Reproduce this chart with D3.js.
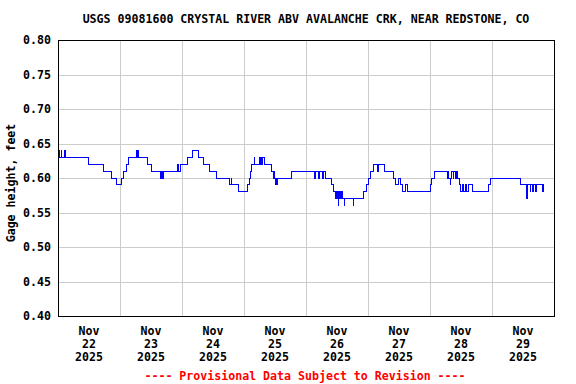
<!DOCTYPE html>
<html>
<head>
<meta charset="utf-8">
<script src="https://cdn.jsdelivr.net/npm/d3@7"></script>
<style>
  body { margin: 0; background: #fff; }
  svg { display: block; }
  text { font-family: "DejaVu Sans Mono", monospace; font-weight: bold; font-size: 11.6px; fill: #000; }
</style>
</head>
<body>
<svg id="chart" width="576" height="384"></svg>
<script>
const title = "USGS 09081600 CRYSTAL RIVER ABV AVALANCHE CRK, NEAR REDSTONE, CO";
const yLabel = "Gage height, feet";
const footer = "---- Provisional Data Subject to Revision ----";

// hours after Nov 22 2025 00:00 where the reading changed, and the new value
const hours = [0, 0.5, 0.75, 1.25, 1.5, 2.5, 2.75, 11.75, 17.5, 20.75, 22.75, 24.5, 25.25, 26.5, 27.25,
  30.25, 30.5, 30.75, 31, 34.5, 36.25, 39.75, 40, 40.5, 40.75, 46.25, 46.5, 47.25, 50.25, 52.25,
  54.25, 56.5, 58.5, 61.5, 66.5, 67, 67.25, 69.75, 73.25, 74, 74.5, 75, 76, 76.25, 78, 78.25,
  78.75, 79, 79.25, 79.75, 82.5, 83.25, 83.5, 83.75, 84, 84.25, 84.5, 85, 90.5, 99.25, 99.5,
  100.75, 101.25, 102.5, 102.75, 103.5, 106, 106.75, 107.25, 107.5, 107.75, 108.25, 108.5, 108.75,
  109, 109.5, 109.75, 110.25, 110.75, 111, 114.25, 114.5, 118.25, 119.25, 120.25, 121, 122, 123.5,
  124.25, 126.25, 129.75, 130.5, 131.75, 132.75, 133.5, 134.5, 135.25, 144, 144.75, 145.75, 150.75,
  151, 151.25, 151.75, 152, 152.5, 153, 153.25, 153.75, 154.25, 154.75, 155.25, 155.75, 156.75, 157,
  157.75, 158, 159, 160.5, 166.5, 167.25, 179, 181.5, 181.75, 182.75, 183, 183.75, 184, 185, 185.25,
  187.5, 187.75, 188.25];
const gage = [0.63, 0.64, 0.63, 0.64, 0.63, 0.64, 0.63, 0.62, 0.61, 0.60, 0.59, 0.60, 0.61, 0.62, 0.63,
  0.64, 0.63, 0.64, 0.63, 0.62, 0.61, 0.60, 0.61, 0.60, 0.61, 0.62, 0.61, 0.62, 0.63, 0.64,
  0.63, 0.62, 0.61, 0.60, 0.59, 0.60, 0.59, 0.58, 0.59, 0.60, 0.61, 0.62, 0.63, 0.62, 0.63, 0.62,
  0.63, 0.62, 0.63, 0.62, 0.61, 0.60, 0.61, 0.60, 0.59, 0.60, 0.59, 0.60, 0.61, 0.60, 0.61,
  0.60, 0.61, 0.60, 0.61, 0.60, 0.59, 0.58, 0.57, 0.58, 0.57, 0.58, 0.56, 0.57,
  0.58, 0.57, 0.58, 0.57, 0.56, 0.57, 0.56, 0.57, 0.58, 0.59, 0.60, 0.61, 0.62, 0.61,
  0.62, 0.61, 0.60, 0.59, 0.60, 0.59, 0.58, 0.59, 0.58, 0.59, 0.60, 0.61, 0.60,
  0.61, 0.60, 0.59, 0.60, 0.61, 0.60, 0.61, 0.60, 0.61, 0.60, 0.59, 0.58, 0.59, 0.58,
  0.59, 0.58, 0.59, 0.58, 0.59, 0.60, 0.59, 0.57, 0.59, 0.58, 0.59, 0.58, 0.59, 0.58, 0.59,
  0.58, 0.59, 0.59];
const yTicks = [0.40, 0.45, 0.50, 0.55, 0.60, 0.65, 0.70, 0.75, 0.80];

const start = new Date(Date.UTC(2025, 10, 22));
const end = new Date(Date.UTC(2025, 10, 30));
const margin = {top: 40, right: 22, bottom: 68, left: 58};
const width = 576, height = 384;

const data = hours.map((h, i) => ({t: new Date(start.getTime() + h * 3600e3), v: gage[i]}));

const svg = d3.select("#chart");

const x = d3.scaleUtc().domain([start, end]).range([margin.left, width - margin.right]);
const y = d3.scaleLinear().domain([0.40, 0.80]).range([height - margin.bottom, margin.top]);

// grid
svg.append("g")
    .selectAll("line.h")
    .data(yTicks)
    .join("line")
    .attr("x1", margin.left).attr("x2", width - margin.right)
    .attr("y1", d => Math.round(y(d)) + 0.5).attr("y2", d => Math.round(y(d)) + 0.5)
    .attr("stroke", "#cccccc");

const days = d3.utcDay.range(start, end);
svg.append("g")
    .selectAll("line.v")
    .data(days.slice(1))
    .join("line")
    .attr("x1", d => Math.round(x(d)) + 0.5).attr("x2", d => Math.round(x(d)) + 0.5)
    .attr("y1", margin.top).attr("y2", height - margin.bottom)
    .attr("stroke", "#cccccc");

// series
const line = d3.line()
    .x(d => x(d.t))
    .y(d => y(d.v))
    .curve(d3.curveStepAfter);

svg.append("path")
    .datum(data)
    .attr("d", line)
    .attr("fill", "none")
    .attr("stroke", "#0000ff")
    .attr("stroke-width", 1)
    .attr("shape-rendering", "crispEdges");

// frame
svg.append("rect")
    .attr("x", margin.left + 0.5).attr("y", margin.top + 0.5)
    .attr("width", width - margin.left - margin.right)
    .attr("height", height - margin.top - margin.bottom)
    .attr("fill", "none")
    .attr("stroke", "#000");

// y tick labels
svg.append("g")
    .selectAll("text")
    .data(yTicks)
    .join("text")
    .attr("x", 51)
    .attr("y", d => y(d) + 4)
    .attr("text-anchor", "end")
    .text(d => d3.format(".2f")(d));

// x tick labels at noon of each day
const fmtMon = d3.utcFormat("%b"), fmtDay = d3.utcFormat("%d"), fmtYear = d3.utcFormat("%Y");
const xl = svg.append("g")
    .selectAll("text")
    .data(days)
    .join("text")
    .attr("text-anchor", "middle")
    .attr("transform", d => `translate(${x(d3.utcHour.offset(d, 12))},0)`);
xl.append("tspan").attr("x", 0).attr("y", 334.5).text(d => fmtMon(d));
xl.append("tspan").attr("x", 0).attr("y", 347.5).text(d => fmtDay(d));
xl.append("tspan").attr("x", 0).attr("y", 360.5).text(d => fmtYear(d));

// titles
svg.append("text")
    .attr("x", (margin.left + width - margin.right) / 2)
    .attr("y", 23)
    .attr("text-anchor", "middle")
    .text(title);

svg.append("text")
    .attr("transform", "translate(14.5,183) rotate(-90)")
    .attr("text-anchor", "middle")
    .text(yLabel);

svg.append("text")
    .attr("x", 305)
    .attr("y", 379.5)
    .attr("text-anchor", "middle")
    .style("fill", "#ff0000")
    .text(footer);
</script>
</body>
</html>
